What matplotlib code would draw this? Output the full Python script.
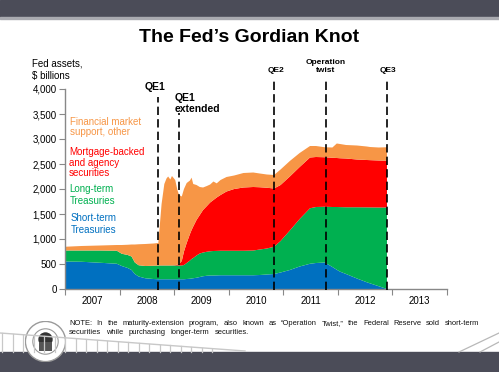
import numpy as np
import matplotlib
matplotlib.use("Agg")
import matplotlib.pyplot as plt
from matplotlib.patches import Rectangle, Circle
from matplotlib.lines import Line2D

plt.rcParams['font.family'] = ['Liberation Sans', 'DejaVu Sans']

# ---- data (levels, $ billions; stacked tops) ----
dates = [2007.00, 2007.30, 2007.64, 2007.95, 2008.04, 2008.15, 2008.22, 2008.28, 2008.35, 2008.47,
         2008.62, 2008.71, 2008.77, 2008.82, 2008.86, 2008.89, 2008.93, 2008.96, 2009.02, 2009.06,
         2009.09, 2009.14, 2009.18, 2009.23, 2009.29, 2009.32, 2009.35, 2009.41, 2009.47, 2009.53,
         2009.60, 2009.66, 2009.72, 2009.78, 2009.85, 2009.96, 2010.10, 2010.27, 2010.45, 2010.57,
         2010.70, 2010.83, 2010.95, 2011.12, 2011.30, 2011.49, 2011.60, 2011.76, 2011.90, 2011.98,
         2012.04, 2012.15, 2012.35, 2012.53, 2012.59, 2012.75, 2012.90]
short_top = [550, 545, 525, 505, 460, 420, 380, 300, 250, 215,
             200, 195, 195, 195, 195, 195, 195, 195, 195, 195,
             195, 195, 195, 200, 205, 210, 215, 225, 240, 255,
             265, 270, 270, 272, 275, 275, 275, 275, 275, 280,
             290, 300, 330, 380, 450, 505, 520, 530, 440, 385,
             347, 300, 210, 135, 113, 55, 0]
long_top = [770, 770, 770, 765, 705, 680, 650, 530, 475, 460,
            465, 470, 470, 470, 470, 470, 470, 470, 470, 470,
            470, 470, 480, 520, 570, 600, 620, 670, 710, 730,
            745, 755, 760, 762, 765, 765, 765, 765, 770, 790,
            810, 845, 960, 1170, 1400, 1615, 1640, 1645, 1640, 1640,
            1638, 1635, 1635, 1633, 1632, 1630, 1630]
mbs_top = [770, 770, 770, 765, 705, 680, 650, 530, 475, 460,
           465, 472, 472, 472, 472, 472, 472, 472, 475, 490,
           500, 560, 750, 920, 1100, 1180, 1250, 1380, 1480, 1580,
           1660, 1730, 1780, 1830, 1880, 1950, 2000, 2030, 2040, 2035,
           2025, 2010, 2080, 2250, 2440, 2630, 2640, 2635, 2625, 2620,
           2615, 2610, 2590, 2580, 2577, 2570, 2565]
total = [845, 860, 870, 880, 880, 885, 890, 890, 895, 900,
         910, 920, 1700, 2100, 2210, 2250, 2190, 2260, 2180, 1980,
         1880, 1850, 2000, 2120, 2170, 2227, 2100, 2080, 2040, 2030,
         2060, 2090, 2150, 2113, 2180, 2240, 2270, 2320, 2330, 2310,
         2290, 2280, 2390, 2560, 2720, 2860, 2860, 2835, 2830, 2910,
         2900, 2880, 2870, 2850, 2840, 2830, 2835]

series_labels = ["Short-term\nTreasuries", "Long-term\nTreasuries",
                 "Mortgage-backed\nand agency\nsecurities", "Financial market\nsupport, other"]
series_colors = ["#0070C0", "#00B050", "#FF0000", "#F79646"]

events = ["QE1", "QE1\nextended", "QE2", "Operation\ntwist", "QE3"]
event_dates = [2008.71, 2009.095, 2010.83, 2011.79, 2012.90]

years = [2007, 2008, 2009, 2010, 2011, 2012, 2013]
yticks = [0, 500, 1000, 1500, 2000, 2500, 3000, 3500, 4000]

# ---- figure ----
W, H = 499, 372
fig = plt.figure(figsize=(W / 100, H / 100), dpi=100)
fig.patch.set_facecolor("white")

def fx(px):
    return px / W

def fy(py):
    return 1 - py / H

# decorative bands
fig.add_artist(Rectangle((0, fy(17)), 1, 17 / H, transform=fig.transFigure,
                         color="#4b4c58", zorder=0))
fig.add_artist(Rectangle((0, fy(19)), 1, 2 / H, transform=fig.transFigure,
                         color="#a9aab0", zorder=0))
fig.add_artist(Rectangle((0, 0), 1, fy(352), transform=fig.transFigure,
                         color="#4b4c58", zorder=0))
# fence
fig.add_artist(Line2D([fx(0), fx(245)], [fy(333), fy(351)], transform=fig.transFigure,
                      color="#c8c8c8", lw=1, zorder=1))
for px in np.arange(2, 215, 10.5):
    ytop = 333 + (351 - 333) * px / 245
    fig.add_artist(Line2D([fx(px), fx(px)], [fy(ytop), fy(352)], transform=fig.transFigure,
                          color="#c8c8c8", lw=0.9, zorder=1))
fig.add_artist(Line2D([fx(459), fx(499)], [fy(352), fy(333)], transform=fig.transFigure,
                      color="#b8b8b8", lw=0.9, zorder=1))
fig.add_artist(Line2D([fx(480), fx(499)], [fy(352), fy(342)], transform=fig.transFigure,
                      color="#b8b8b8", lw=0.9, zorder=1))
# seal
ax_seal = fig.add_axes([fx(25), fy(362), 41 / W, 41 / H])
ax_seal.set_xlim(-1, 1); ax_seal.set_ylim(-1, 1); ax_seal.set_aspect('equal'); ax_seal.axis('off')
ax_seal.add_patch(Circle((0, 0), 0.98, facecolor="white", edgecolor="#9a9a9a", lw=1.0))
ax_seal.add_patch(Circle((0, 0), 0.62, facecolor="white", edgecolor="#9a9a9a", lw=0.8))
ax_seal.add_patch(Circle((0, 0.1), 0.35, facecolor="#333333", edgecolor="none"))
ax_seal.add_patch(Rectangle((-0.3, -0.45), 0.6, 0.45, facecolor="#555555", edgecolor="none"))

# title
fig.text(fx(249), fy(38), "The Fed\u2019s Gordian Knot", ha="center", va="center",
         fontsize=14, fontweight="bold", color="black")

# ---- axes ----
ax = fig.add_axes([fx(65), fy(289), (447 - 65) / W, 200 / H])
x = np.array(dates)
s = np.array(short_top)
l = np.array(long_top)
m = np.array(mbs_top)
t = np.array(total)
comps = [s, l - s, m - l, t - m]
ax.stackplot(x, *comps, colors=series_colors, linewidth=0, edgecolor="none")

ax.set_xlim(2007, 2014)
ax.set_ylim(0, 4000)
ax.set_yticks(yticks)
ax.set_yticklabels([f"{v:,}" for v in yticks], fontsize=7)
ax.set_xticks(list(range(2007, 2015)))
ax.set_xticklabels([])
ax.set_xticks([y + 0.5 for y in years], minor=True)
ax.set_xticklabels([str(y) for y in years], minor=True, fontsize=7)
ax.tick_params(axis="x", which="minor", length=0, pad=5)
ax.tick_params(axis="x", which="major", length=4, color="#888888", direction="out")
ax.tick_params(axis="y", length=4, color="#888888", direction="out", pad=2)
for sp in ["top", "right"]:
    ax.spines[sp].set_visible(False)
for sp in ["left", "bottom"]:
    ax.spines[sp].set_color("#888888")
    ax.spines[sp].set_linewidth(1.0)
ax.patch.set_alpha(0)

# event lines
event_tops = [3850, 3520, 4200, 4200, 4200]
for d, top in zip(event_dates, event_tops):
    ax.plot([d, d], [-20, top], color="black", lw=1.2, dashes=(5, 2.5), clip_on=False, zorder=5)

def dpx(px):
    return 2007 + (px - 65) / 54.57

def dpy(py):
    return (289 - py) * 20

ax.text(dpx(155), dpy(87), "QE1", ha="center", va="center", fontsize=7.5, fontweight="bold")
ax.text(dpx(175), dpy(103.5), "QE1\nextended", ha="left", va="center", fontsize=7.5,
        fontweight="bold", linespacing=1.1)
ax.text(dpx(276), dpy(70), "QE2", ha="center", va="center", fontsize=6, fontweight="bold")
ax.text(dpx(326), dpy(66.5), "Operation\ntwist", ha="center", va="center", fontsize=6,
        fontweight="bold", linespacing=1.0)
ax.text(dpx(387.7), dpy(70), "QE3", ha="center", va="center", fontsize=6, fontweight="bold")

# y label
fig.text(fx(32), fy(63), "Fed assets,", ha="left", va="center", fontsize=7)
fig.text(fx(32), fy(75.5), "$ billions", ha="left", va="center", fontsize=7)

# series labels
label_pos = [(70.5, [218.3, 230]), (69.3, [189.3, 200.7]),
             (69, [151.7, 162.7, 172.7]), (70, [121.7, 132.3])]
for lab, col, (lx, ys) in zip(series_labels, series_colors, label_pos):
    for line, yy in zip(lab.split("\n"), ys):
        fig.text(fx(lx), fy(yy), line, ha="left", va="center", fontsize=7, color=col)

# note (justified first line)
note1 = "NOTE: In the maturity-extension program, also known as \u201cOperation Twist,\u201d the Federal Reserve sold short-term"
note2 = "securities while purchasing longer-term securities."
fig.canvas.draw()
renderer = fig.canvas.get_renderer()

def word_widths(words, size):
    ws = []
    for w in words:
        tt = fig.text(0, 0, w, fontsize=size)
        ws.append(tt.get_window_extent(renderer).width)
        tt.remove()
    return ws

def place_line(text, x0, x1, yy, size):
    words = text.split(" ")
    wws = word_widths(words, size)
    gap = (x1 - x0 - sum(wws)) / (len(words) - 1)
    xx = x0
    for w, ww in zip(words, wws):
        fig.text(fx(xx), fy(yy), w, ha="left", va="center", fontsize=size, color="#111111")
        xx += ww + gap

nsize = 5.4
place_line(note1, 69, 479, 323.3, nsize)
place_line(note2, 69, 249, 332.3, nsize)

fig.savefig("out.png", dpi=100)
